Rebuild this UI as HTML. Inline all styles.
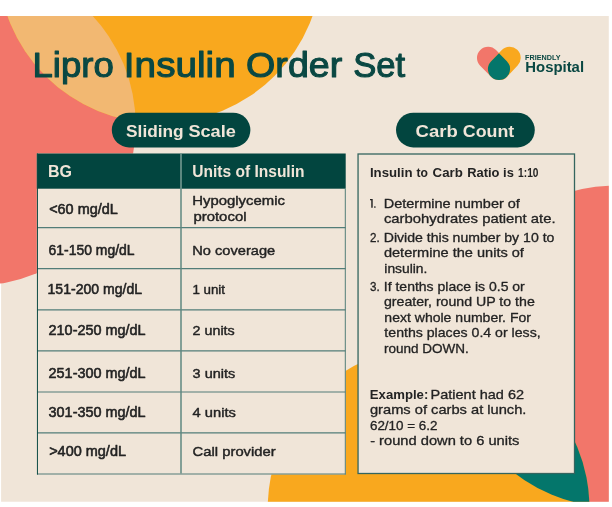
<!DOCTYPE html>
<html>
<head>
<meta charset="utf-8">
<title>Lipro Insulin Order Set</title>
<style>
  html, body { margin: 0; padding: 0; background: #ffffff; }
  body { width: 612px; height: 507px; overflow: hidden; position: relative; }
  svg { position: absolute; left: 0; top: 0; display: block; }
  text { font-family: "Liberation Sans", sans-serif; }
  svg { will-change: transform; }
</style>
</head>
<body>
<svg width="612" height="507" viewBox="0 0 612 507">
  <defs>
    <clipPath id="page"><rect x="0" y="16" width="608.8" height="485.8"/></clipPath>
    <clipPath id="cTL"><circle cx="-24.6" cy="125.2" r="160.3"/></clipPath>
    <clipPath id="cBR"><circle cx="428.6" cy="508.5" r="160.9"/></clipPath>
  </defs>

  <!-- background shapes -->
  <g clip-path="url(#page)">
    <rect x="1.1" y="16" width="608" height="486" fill="#F0E5D8"/>
    <circle cx="-24.6" cy="125.2" r="160.3" fill="#F2766A"/>
    <circle cx="160.0" cy="-38.6" r="162" fill="#F9A81E"/>
    <g clip-path="url(#cTL)"><circle cx="160.0" cy="-38.6" r="162" fill="#F2B872"/></g>
    <circle cx="613.4" cy="346.4" r="160.6" fill="#F2766A"/>
    <circle cx="428.6" cy="508.5" r="160.9" fill="#F9A81E"/>
    <g clip-path="url(#cBR)"><circle cx="613.4" cy="346.4" r="160.6" fill="#04766B"/></g>
  </g>

  <!-- logo mark -->
  <path d="M488.1 57.9 L499 69" stroke="#F2766A" stroke-width="22.2" stroke-linecap="round" fill="none"/>
  <path d="M509.6 57.9 L499 69" stroke="#F9A81E" stroke-width="22.2" stroke-linecap="round" fill="none"/>
  <path d="M499 53.3 L506.85 61.15 A11.1 11.1 0 1 1 491.15 61.15 Z" fill="#04766B"/>

  <!-- pills -->
  <rect x="111.8" y="112.8" width="138.6" height="34.6" rx="17.3" fill="#02453F"/>
  <rect x="396" y="112.8" width="138.8" height="34.6" rx="17.3" fill="#02453F"/>

  <!-- table -->
  <rect x="36.8" y="153.5" width="308.9" height="321.0" fill="#F0E5D8"/>
  <rect x="36.8" y="153.5" width="308.9" height="35.2" fill="#02453F"/>
  <g stroke="#527D78" stroke-width="1.2" fill="none">
    <path d="M37 227.6H345.6M37 268.7H345.6M37 309.8H345.6M37 350.9H345.6M37 392.0H345.6M37 432.9H345.6"/>
    <path d="M37 474.0H345.7"/>
    <path d="M345.3 188.7V474.6" stroke-width="1"/>
  </g>
  <path d="M181 188.7V473.5" stroke="#5F8781" stroke-width="1.5"/>
  <path d="M181 153.5V188.7" stroke="#7C9F97" stroke-width="1.5"/>
  <path d="M37.45 153.5V474.6" stroke="#0C4B45" stroke-width="1"/>

  <!-- carb count box -->
  <rect x="358.05" y="154.0" width="216.45" height="319.5" fill="#F0E5D8" stroke="#34655F" stroke-width="1.3"/>

  <!-- list numeral 1. -->
  <path d="M370.0 198.9H372.7V207.8H371.25V200.15H370.0Z" fill="#232323"/>
  <rect x="374.1" y="206.3" width="1.55" height="1.5" rx="0.6" fill="#232323"/>

  <!-- text -->
  <g id="txt">
  <text x="32.50" y="76.70" font-size="35.6" fill="#0A4843" textLength="81.26" lengthAdjust="spacingAndGlyphs" stroke="#0A4843" stroke-width="1.1" stroke-linejoin="round">Lipro</text>
  <text x="123.89" y="76.70" font-size="35.6" fill="#0A4843" textLength="111.80" lengthAdjust="spacingAndGlyphs" stroke="#0A4843" stroke-width="1.1" stroke-linejoin="round">Insulin</text>
  <text x="246.09" y="76.70" font-size="35.6" fill="#0A4843" textLength="96.20" lengthAdjust="spacingAndGlyphs" stroke="#0A4843" stroke-width="1.1" stroke-linejoin="round">Order</text>
  <text x="353.28" y="76.70" font-size="35.6" fill="#0A4843" textLength="51.96" lengthAdjust="spacingAndGlyphs" stroke="#0A4843" stroke-width="1.1" stroke-linejoin="round">Set</text>
  <text x="525.00" y="59.90" font-size="7.8" fill="#0A4843" textLength="35.46" lengthAdjust="spacingAndGlyphs" font-weight="bold">FRIENDLY</text>
  <text x="525.30" y="71.50" font-size="14" fill="#0A4843" textLength="58.75" lengthAdjust="spacingAndGlyphs" font-weight="bold">Hospital</text>
  <text x="126.10" y="136.90" font-size="17" fill="#F0E5D8" textLength="57.59" lengthAdjust="spacingAndGlyphs" font-weight="bold">Sliding</text>
  <text x="188.40" y="136.90" font-size="17" fill="#F0E5D8" textLength="47.49" lengthAdjust="spacingAndGlyphs" font-weight="bold">Scale</text>
  <text x="415.60" y="136.90" font-size="17" fill="#F0E5D8" textLength="42.12" lengthAdjust="spacingAndGlyphs" font-weight="bold">Carb</text>
  <text x="462.80" y="136.90" font-size="17" fill="#F0E5D8" textLength="51.44" lengthAdjust="spacingAndGlyphs" font-weight="bold">Count</text>
  <text x="48.05" y="176.90" font-size="16.8" fill="#F0E5D8" textLength="24.00" lengthAdjust="spacingAndGlyphs" font-weight="bold">BG</text>
  <text x="192.26" y="176.80" font-size="16.6" fill="#F0E5D8" textLength="112.26" lengthAdjust="spacingAndGlyphs" font-weight="bold">Units of Insulin</text>
  <text x="49.17" y="213.90" font-size="14.0" fill="#232323" textLength="68.63" lengthAdjust="spacingAndGlyphs" stroke="#232323" stroke-width="0.55" stroke-linejoin="round">&lt;60 mg/dL</text>
  <text x="48.57" y="254.50" font-size="14.0" fill="#232323" textLength="85.94" lengthAdjust="spacingAndGlyphs" stroke="#232323" stroke-width="0.55" stroke-linejoin="round">61-150 mg/dL</text>
  <text x="47.57" y="293.90" font-size="14.0" fill="#232323" textLength="94.44" lengthAdjust="spacingAndGlyphs" stroke="#232323" stroke-width="0.55" stroke-linejoin="round">151-200 mg/dL</text>
  <text x="48.57" y="335.00" font-size="14.0" fill="#232323" textLength="97.03" lengthAdjust="spacingAndGlyphs" stroke="#232323" stroke-width="0.55" stroke-linejoin="round">210-250 mg/dL</text>
  <text x="48.57" y="377.80" font-size="14.0" fill="#232323" textLength="97.03" lengthAdjust="spacingAndGlyphs" stroke="#232323" stroke-width="0.55" stroke-linejoin="round">251-300 mg/dL</text>
  <text x="48.57" y="416.70" font-size="14.0" fill="#232323" textLength="97.03" lengthAdjust="spacingAndGlyphs" stroke="#232323" stroke-width="0.55" stroke-linejoin="round">301-350 mg/dL</text>
  <text x="49.17" y="455.60" font-size="14.0" fill="#232323" textLength="76.83" lengthAdjust="spacingAndGlyphs" stroke="#232323" stroke-width="0.55" stroke-linejoin="round">&gt;400 mg/dL</text>
  <text x="192.28" y="205.30" font-size="13.2" fill="#232323" textLength="92.65" lengthAdjust="spacingAndGlyphs" stroke="#232323" stroke-width="0.42" stroke-linejoin="round">Hypoglycemic</text>
  <text x="193.41" y="220.90" font-size="13.2" fill="#232323" textLength="53.10" lengthAdjust="spacingAndGlyphs" stroke="#232323" stroke-width="0.42" stroke-linejoin="round">protocol</text>
  <text x="192.30" y="254.70" font-size="13.2" fill="#232323" textLength="82.86" lengthAdjust="spacingAndGlyphs" stroke="#232323" stroke-width="0.42" stroke-linejoin="round">No coverage</text>
  <text x="192.40" y="293.80" font-size="13.2" fill="#232323" textLength="32.65" lengthAdjust="spacingAndGlyphs" stroke="#232323" stroke-width="0.42" stroke-linejoin="round">1 unit</text>
  <text x="192.61" y="334.70" font-size="13.2" fill="#232323" textLength="42.14" lengthAdjust="spacingAndGlyphs" stroke="#232323" stroke-width="0.42" stroke-linejoin="round">2 units</text>
  <text x="192.61" y="377.90" font-size="13.2" fill="#232323" textLength="42.54" lengthAdjust="spacingAndGlyphs" stroke="#232323" stroke-width="0.42" stroke-linejoin="round">3 units</text>
  <text x="192.61" y="416.70" font-size="13.2" fill="#232323" textLength="43.23" lengthAdjust="spacingAndGlyphs" stroke="#232323" stroke-width="0.42" stroke-linejoin="round">4 units</text>
  <text x="192.61" y="455.80" font-size="13.2" fill="#232323" textLength="83.10" lengthAdjust="spacingAndGlyphs" stroke="#232323" stroke-width="0.42" stroke-linejoin="round">Call provider</text>
  <text x="369.90" y="176.80" font-size="12.7" fill="#232323" textLength="42.58" lengthAdjust="spacingAndGlyphs" font-weight="bold">Insulin</text>
  <text x="416.40" y="176.80" font-size="12.7" fill="#232323" textLength="11.46" lengthAdjust="spacingAndGlyphs" font-weight="bold">to</text>
  <text x="432.60" y="176.80" font-size="12.7" fill="#232323" textLength="30.14" lengthAdjust="spacingAndGlyphs" font-weight="bold">Carb</text>
  <text x="467.20" y="176.80" font-size="12.7" fill="#232323" textLength="46.66" lengthAdjust="spacingAndGlyphs" font-weight="bold">Ratio is</text>
  <text x="518.10" y="176.80" font-size="12.7" fill="#232323" textLength="20.35" lengthAdjust="spacingAndGlyphs" font-weight="bold">1:10</text>
  <text x="383.71" y="207.90" font-size="12.7" fill="#232323" textLength="136.20" lengthAdjust="spacingAndGlyphs" stroke="#232323" stroke-width="0.3" stroke-linejoin="round">Determine number of</text>
  <text x="383.95" y="223.20" font-size="12.7" fill="#232323" textLength="171.71" lengthAdjust="spacingAndGlyphs" stroke="#232323" stroke-width="0.3" stroke-linejoin="round">carbohydrates patient ate.</text>
  <text x="369.95" y="241.90" font-size="12.7" fill="#232323" textLength="9.68" lengthAdjust="spacingAndGlyphs" stroke="#232323" stroke-width="0.3" stroke-linejoin="round">2.</text>
  <text x="383.74" y="241.90" font-size="12.7" fill="#232323" textLength="170.67" lengthAdjust="spacingAndGlyphs" stroke="#232323" stroke-width="0.3" stroke-linejoin="round">Divide this number by 10 to</text>
  <text x="383.95" y="256.80" font-size="12.7" fill="#232323" textLength="139.96" lengthAdjust="spacingAndGlyphs" stroke="#232323" stroke-width="0.3" stroke-linejoin="round">determine the units of</text>
  <text x="384.35" y="272.60" font-size="12.7" fill="#232323" textLength="43.07" lengthAdjust="spacingAndGlyphs" stroke="#232323" stroke-width="0.3" stroke-linejoin="round">insulin.</text>
  <text x="369.95" y="290.90" font-size="12.7" fill="#232323" textLength="9.68" lengthAdjust="spacingAndGlyphs" stroke="#232323" stroke-width="0.3" stroke-linejoin="round">3.</text>
  <text x="383.75" y="290.90" font-size="12.7" fill="#232323" textLength="141.05" lengthAdjust="spacingAndGlyphs" stroke="#232323" stroke-width="0.3" stroke-linejoin="round">If tenths place is 0.5 or</text>
  <text x="383.95" y="306.30" font-size="12.7" fill="#232323" textLength="150.86" lengthAdjust="spacingAndGlyphs" stroke="#232323" stroke-width="0.3" stroke-linejoin="round">greater, round UP to the</text>
  <text x="384.35" y="321.50" font-size="12.7" fill="#232323" textLength="146.64" lengthAdjust="spacingAndGlyphs" stroke="#232323" stroke-width="0.3" stroke-linejoin="round">next whole number. For</text>
  <text x="384.35" y="337.00" font-size="12.7" fill="#232323" textLength="156.28" lengthAdjust="spacingAndGlyphs" stroke="#232323" stroke-width="0.3" stroke-linejoin="round">tenths places 0.4 or less,</text>
  <text x="383.95" y="352.70" font-size="12.7" fill="#232323" textLength="84.86" lengthAdjust="spacingAndGlyphs" stroke="#232323" stroke-width="0.3" stroke-linejoin="round">round DOWN.</text>
  <text x="369.80" y="399.00" font-size="12.7" fill="#232323" textLength="58.47" lengthAdjust="spacingAndGlyphs" font-weight="bold">Example:</text>
  <text x="430.61" y="399.00" font-size="12.7" fill="#232323" textLength="93.41" lengthAdjust="spacingAndGlyphs" stroke="#232323" stroke-width="0.3" stroke-linejoin="round">Patient had 62</text>
  <text x="369.95" y="414.40" font-size="12.7" fill="#232323" textLength="156.51" lengthAdjust="spacingAndGlyphs" stroke="#232323" stroke-width="0.3" stroke-linejoin="round">grams of carbs at lunch.</text>
  <text x="369.95" y="429.80" font-size="12.7" fill="#232323" textLength="67.46" lengthAdjust="spacingAndGlyphs" stroke="#232323" stroke-width="0.3" stroke-linejoin="round">62/10 = 6.2</text>
  <text x="370.15" y="445.30" font-size="12.7" fill="#232323" textLength="149.30" lengthAdjust="spacingAndGlyphs" stroke="#232323" stroke-width="0.3" stroke-linejoin="round">- round down to 6 units</text>
  </g>
</svg>
</body>
</html>
